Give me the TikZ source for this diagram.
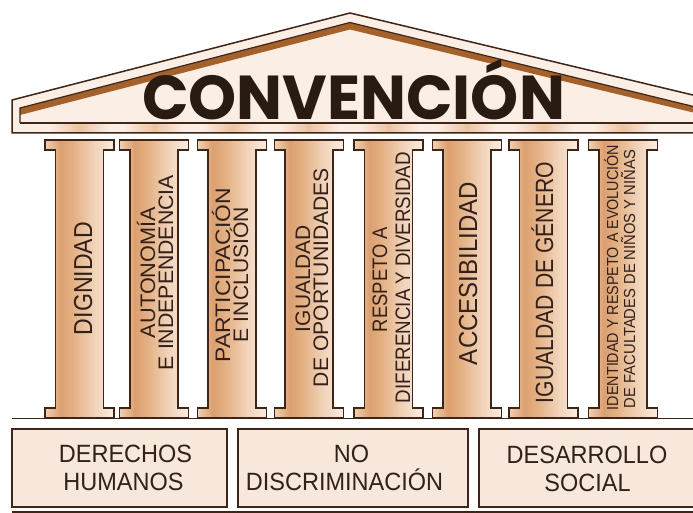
\documentclass[tikz,border=0pt]{standalone}
\usepackage{fontspec}
\setmainfont{Liberation Sans}
\newfontfamily\titlefont{Poppins}
\usepackage{graphicx}
\definecolor{outc}{HTML}{3F2517}
\definecolor{txtc}{HTML}{33201A}
\definecolor{titlec}{HTML}{2A1B12}
\definecolor{boxc}{HTML}{F8E8DC}
\definecolor{pedc}{HTML}{FBEEE4}
\definecolor{stripec}{HTML}{A4612C}
\definecolor{glowc}{HTML}{EDC3A0}
\definecolor{cA}{HTML}{F0D0B4}
\definecolor{cB}{HTML}{DCA070}
\definecolor{cB2}{HTML}{E3B083}
\definecolor{cC}{HTML}{F0D2B8}
\definecolor{cD}{HTML}{FAEDE2}
\pgfdeclarehorizontalshading{colshade}{100bp}{color(0bp)=(cA); color(25bp)=(cA); color(36bp)=(cB); color(45bp)=(cB2); color(60bp)=(cC); color(75bp)=(cD); color(100bp)=(cD)}
\newsavebox\fitsave
\newcommand\fitbox[3]{\sbox\fitsave{\fontsize{#2}{#2}\selectfont #3}\pgfmathsetmacro\fitfac{#1/\the\wd\fitsave}\scalebox{\fitfac}[1]{\usebox\fitsave}}
\begin{document}
\begin{tikzpicture}[x=1pt,y=-1pt,
  outl/.style={draw=outc, line width=1.5pt, line join=miter},
  coltxt/.style={rotate=90, anchor=base, inner sep=0pt, text=txtc},
  boxtxt/.style={anchor=base, inner sep=0pt, text=txtc, font=\fontsize{25}{25}\selectfont},
  colbody/.style={outl, shading=colshade},
  basebox/.style={outl, fill=boxc}]
\useasboundingbox (0,0) rectangle (693,513);
\begin{scope}
\clip (0,0) rectangle (693,513);
% pediment
\fill[pedc] (12,133) -- (12,100) -- (350,13) -- (720,101.5) -- (720,133) -- cycle;
\foreach \cx in {79.5,154,232,309,388.5,467,543.5,623}
  \shade[left color=pedc, right color=pedc, middle color=glowc] (\cx-30,124) rectangle (\cx+30,132.3);
\fill[stripec] (20,108) -- (350,22.5) -- (720,113) -- (720,119) -- (350,29.5) -- (20,115) -- cycle;
\draw[outl] (12,133) -- (12,100) -- (350,13) -- (720,101.5) -- (720,133) -- cycle;
\draw[outl, line width=1.2pt] (20,123) -- (20,108) -- (350,22.5) -- (720,113);
\draw[outl, line width=1.2pt] (20,123) -- (720,123);
% columns
\foreach \cx in {79.5,154,232,309,388.5,467,543.5,623}
  \draw[colbody] (\cx-34.5,140) -- ++(69,0) -- ++(0,10) -- ++(-10.5,0) -- (\cx+24,408) -- ++(10.5,0) -- ++(0,10) -- ++(-69,0) -- ++(0,-10) -- ++(10.5,0) -- (\cx-24,150) -- ++(-10.5,0) -- cycle;
\draw[outl, line width=1.8pt] (12,418.5) -- (720,418.5);
% base boxes
\draw[basebox] (12,429) rectangle (227,507);
\draw[basebox] (238,429) rectangle (468,507);
\draw[basebox] (479,429) rectangle (720,507);
\draw[outl] (12,512) -- (720,512);
\end{scope}
% title
\node[anchor=base, inner sep=0pt, text=titlec] (title) at (353.5,120) {\fitbox{423}{62}{\titlefont\bfseries CONVENCIÓN}};
% column labels
\node[coltxt] (c1t) at (92,278.5) {\fitbox{113}{26}{DIGNIDAD}};
\node[coltxt] (c2a) at (155,272.5) {\fitbox{131}{21}{AUTONOMÍA}};
\node[coltxt] (c2b) at (173,272.5) {\fitbox{195}{21}{E INDEPENDENCIA}};
\node[coltxt] (c3a) at (230,275) {\fitbox{174}{21}{PARTICIPACIÓN}};
\node[coltxt] (c3b) at (248,274.5) {\fitbox{135}{21}{E INCLUSIÓN}};
\node[coltxt] (c4a) at (310,278.5) {\fitbox{107}{21}{IGUALDAD}};
\node[coltxt] (c4b) at (328,277.5) {\fitbox{219}{21}{DE OPORTUNIDADES}};
\node[coltxt] (c5a) at (387,279.5) {\fitbox{105}{21}{RESPETO A}};
\node[coltxt] (c5b) at (410,277.5) {\fitbox{251}{21}{DIFERENCIA Y DIVERSIDAD}};
\node[coltxt] (c6t) at (477,273.5) {\fitbox{183}{26}{ACCESIBILIDAD}};
\node[coltxt] (c7t) at (553,282.5) {\fitbox{241}{25}{IGUALDAD DE GÉNERO}};
\node[coltxt] (c8a) at (618,277.5) {\fitbox{265}{16}{IDENTIDAD Y RESPETO A EVOLUCIÓN}};
\node[coltxt] (c8b) at (635,279) {\fitbox{258}{16}{DE FACULTADES DE NIÑOS Y NIÑAS}};
% box labels
\node[boxtxt] (b1a) at (125.5,462) {\scalebox{0.94}[1]{DERECHOS}};
\node[boxtxt] (b1b) at (123.5,490) {\scalebox{0.94}[1]{HUMANOS}};
\node[boxtxt] (b2a) at (351.5,462) {\scalebox{0.94}[1]{NO}};
\node[boxtxt] (b2b) at (344.5,490) {\scalebox{0.94}[1]{DISCRIMINACIÓN}};
\node[boxtxt] (b3a) at (587,463) {\scalebox{0.94}[1]{DESARROLLO}};
\node[boxtxt] (b3b) at (587.5,491) {\scalebox{0.94}[1]{SOCIAL}};
\end{tikzpicture}
\end{document}
